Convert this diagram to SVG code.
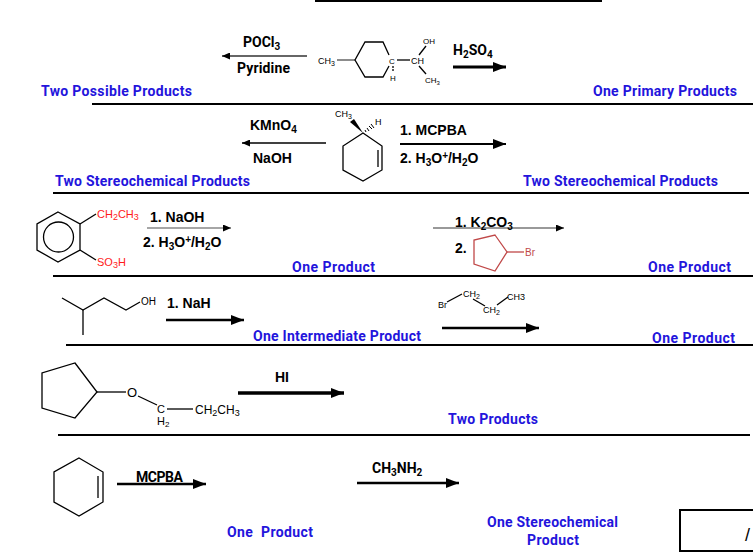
<svg xmlns="http://www.w3.org/2000/svg" width="753" height="555" viewBox="0 0 753 555">
<style>
.lbl{font-family:Roboto,"Liberation Sans",Arial,sans-serif;font-weight:bold;font-size:14px;fill:#2314dc;white-space:pre}
.rg{font-family:"Liberation Sans",Arial,sans-serif;font-weight:bold;font-size:14px;fill:#000}
.rr{font-family:Roboto,"Liberation Sans",Arial,sans-serif;font-weight:bold;font-size:14px;fill:#000}
.sm{font-family:"Liberation Sans",Arial,sans-serif;font-size:9px;fill:#000}
.red{font-family:"Liberation Sans",Arial,sans-serif;font-size:11px;fill:#ff1a1a}
.bond{stroke:#000;stroke-width:1.3;fill:none}
.sep{stroke:#000;stroke-width:2}
.arr{stroke:#000;fill:none}
</style>
<defs>
<marker id="ah" markerUnits="userSpaceOnUse" markerWidth="14" markerHeight="10" refX="13" refY="5" orient="auto">
<path d="M0,0 L13,5 L0,10 z" fill="#000"/>
</marker>
<marker id="ahs" markerUnits="userSpaceOnUse" markerWidth="9" markerHeight="7" refX="8" refY="3.5" orient="auto">
<path d="M0,0 L8,3.5 L0,7 z" fill="#000"/>
</marker>
</defs>

<g id="separators">
<line class="sep" x1="315" y1="1" x2="602" y2="1"/>
<line class="sep" x1="92" y1="104" x2="753" y2="104"/>
<line class="sep" x1="53" y1="193" x2="749" y2="193"/>
<line class="sep" x1="53" y1="276" x2="753" y2="276"/>
<line class="sep" x1="66" y1="345" x2="753" y2="345"/>
<line class="sep" x1="58" y1="435" x2="750" y2="435"/>
</g>

<g id="connectors">
<line class="arr" x1="307" y1="56" x2="222" y2="56" style="stroke:#666" stroke-width="2" marker-end="url(#ahs)"/>
<line class="arr" x1="453" y1="67" x2="506" y2="67" stroke-width="3" marker-end="url(#ah)"/>
<line class="arr" x1="326" y1="143" x2="242" y2="143" stroke-width="1.5" marker-end="url(#ahs)"/>
<line class="arr" x1="400" y1="144" x2="506" y2="144" stroke-width="2" marker-end="url(#ah)"/>
<line class="arr" x1="147" y1="228" x2="231" y2="228" style="stroke:#888" stroke-width="1.5" marker-end="url(#ahs)"/>
<line class="arr" x1="433" y1="228" x2="564" y2="228" style="stroke:#999" stroke-width="2" marker-end="url(#ahs)"/>
<line class="arr" x1="166" y1="320" x2="244" y2="320" stroke-width="2.5" marker-end="url(#ah)"/>
<line class="arr" x1="442" y1="328" x2="539" y2="328" stroke-width="2.5" marker-end="url(#ah)"/>
<line class="arr" x1="238" y1="393" x2="344" y2="393" stroke-width="3.5" marker-end="url(#ah)"/>
<line class="arr" x1="117" y1="484" x2="206" y2="484" stroke-width="2.5" marker-end="url(#ah)"/>
<line class="arr" x1="357" y1="483" x2="459" y2="483" stroke-width="2.5" marker-end="url(#ah)"/>
</g>

<g id="row1-reagents">
<text class="rr" x="243" y="47">POCl<tspan font-size="10" dy="3">3</tspan></text>
<text class="rr" x="237" y="73" textLength="53">Pyridine</text>
<text class="rr" x="453" y="55">H<tspan font-size="10" dy="3">2</tspan><tspan dy="-3">SO</tspan><tspan font-size="10" dy="3">4</tspan></text>
</g>

<g id="row1-molecule">
<text class="sm" x="318" y="64">CH<tspan font-size="7" dy="2">3</tspan></text>
<line x1="337" y1="60" x2="355" y2="60" stroke="#666" stroke-width="1.5"/>
<path class="bond" d="M389,55 L383,42 L365,42 L355,60 L365,77 L383,77 L389,66"/>
<text class="sm" x="389" y="64" style="font-size:8px">C</text>
<line class="bond" x1="397" y1="60" x2="410" y2="60"/>
<text class="sm" x="411" y="64">CH</text>
<text class="sm" x="423" y="44" style="font-size:8px">OH</text>
<line class="bond" x1="419" y1="55" x2="426" y2="46"/>
<line class="bond" x1="393" y1="66" x2="393" y2="72" stroke-dasharray="2,1"/>
<text class="sm" x="390" y="81" style="font-size:8px">H</text>
<line class="bond" x1="419" y1="66" x2="426" y2="74"/>
<text class="sm" x="425" y="83" style="font-size:8px">CH<tspan font-size="6" dy="2">3</tspan></text>
</g>

<g id="row1-labels">
<text class="lbl" x="41" y="96" textLength="151">Two Possible Products</text>
<text class="lbl" x="593" y="96" textLength="144">One Primary Products</text>
</g>

<g id="row2-reagents">
<text class="rg" x="250" y="130">KMnO<tspan font-size="10" dy="3">4</tspan></text>
<text class="rg" x="253" y="163">NaOH</text>
<text class="rg" x="400" y="135">1. MCPBA</text>
<text class="rg" x="400" y="163">2. H<tspan font-size="10" dy="3">3</tspan><tspan dy="-3">O</tspan><tspan font-size="10" dy="-4">+</tspan><tspan dy="4">/H</tspan><tspan font-size="10" dy="3">2</tspan><tspan dy="-3">O</tspan></text>
</g>

<g id="row2-molecule">
<polygon class="bond" points="363,133 382,146 382,170 363,181 343,170 343,146" stroke-width="1.8"/>
<line class="bond" x1="378" y1="150" x2="378" y2="167" stroke-width="1.8"/>
<polygon points="363,133 350,122 354,119" fill="#000"/>
<text class="sm" x="335" y="117">CH<tspan font-size="7" dy="2">3</tspan></text>
<g stroke="#000" stroke-width="1">
<line x1="365" y1="130" x2="366" y2="132"/>
<line x1="367" y1="128" x2="369" y2="131"/>
<line x1="369" y1="126" x2="372" y2="129"/>
<line x1="371" y1="124" x2="374" y2="128"/>
</g>
<text class="sm" x="375" y="125">H</text>
</g>

<g id="row2-labels">
<text class="lbl" x="55" y="186" textLength="195">Two Stereochemical Products</text>
<text class="lbl" x="523" y="186" textLength="195">Two Stereochemical Products</text>
</g>

<g id="row3-molecule">
<polygon class="bond" points="58,212 80,224 80,250 58,262 37,250 37,224"/>
<circle class="bond" cx="58.5" cy="237" r="15"/>
<line class="bond" x1="80" y1="224" x2="96" y2="214"/>
<line class="bond" x1="80" y1="250" x2="96" y2="260"/>
<text class="red" x="97" y="218">CH<tspan font-size="9" dy="2">2</tspan><tspan dy="-2">CH</tspan><tspan font-size="9" dy="2">3</tspan></text>
<text class="red" x="97" y="266">SO<tspan font-size="9" dy="2">3</tspan><tspan dy="-2">H</tspan></text>
</g>

<g id="row3-reagents">
<text class="rg" x="150" y="222">1. NaOH</text>
<text class="rg" x="143" y="247">2. H<tspan font-size="10" dy="3">3</tspan><tspan dy="-3">O</tspan><tspan font-size="10" dy="-4">+</tspan><tspan dy="4">/H</tspan><tspan font-size="10" dy="3">2</tspan><tspan dy="-3">O</tspan></text>
<text class="rg" x="455" y="227">1. K<tspan font-size="10" dy="3">2</tspan><tspan dy="-3">CO</tspan><tspan font-size="10" dy="3">3</tspan></text>
<text class="rg" x="455" y="253">2.</text>
<polygon points="495,235 507,252 495,271 474,264 474,240" fill="none" stroke="#c04848" stroke-width="1.3"/>
<line x1="507" y1="252" x2="524" y2="252" stroke="#c04848" stroke-width="1.3"/>
<text x="525" y="256" font-family="Liberation Sans, Arial, sans-serif" font-size="10" fill="#c04848">Br</text>
</g>

<g id="row3-labels">
<text class="lbl" x="292" y="272" textLength="83">One Product</text>
<text class="lbl" x="648" y="272" textLength="83">One Product</text>
</g>

<g id="row4-molecule">
<polyline class="bond" points="62,298 83,310 104,298 126,310 140,302"/>
<line class="bond" x1="83" y1="310" x2="83" y2="335"/>
<text class="sm" x="141" y="305" style="font-size:10px">OH</text>
</g>

<g id="row4-reagents">
<text class="rg" x="167" y="308">1. NaH</text>
<text class="sm" x="438" y="308">Br</text>
<line class="bond" x1="447" y1="302" x2="462" y2="294"/>
<text class="sm" x="463" y="297">CH<tspan font-size="7" dy="2">2</tspan></text>
<line class="bond" x1="473" y1="299" x2="485" y2="306"/>
<text class="sm" x="483" y="313">CH<tspan font-size="7" dy="2">2</tspan></text>
<line class="bond" x1="497" y1="305" x2="508" y2="297"/>
<text class="sm" x="507" y="300">CH3</text>
</g>

<g id="row4-labels">
<text class="lbl" x="253" y="341" textLength="168">One Intermediate Product</text>
<text class="lbl" x="652" y="343" textLength="83">One Product</text>
</g>

<g id="row5-molecule">
<polygon class="bond" points="75,363 97,392 75,418 42,408 42,373"/>
<line class="bond" x1="97" y1="392" x2="126" y2="392"/>
<text class="sm" x="127" y="397" style="font-size:13px">O</text>
<line class="bond" x1="138" y1="396" x2="157" y2="405"/>
<text class="sm" x="157" y="413" style="font-size:11px">C</text>
<text class="sm" x="157" y="425" style="font-size:11px">H<tspan font-size="8" dy="2">2</tspan></text>
<line class="bond" x1="167" y1="409" x2="193" y2="409"/>
<text class="sm" x="195" y="414" style="font-size:12px">CH<tspan font-size="9" dy="2">2</tspan><tspan dy="-2">CH</tspan><tspan font-size="9" dy="2">3</tspan></text>
</g>

<g id="row5-reagents">
<text class="rg" x="275" y="382">HI</text>
<text class="lbl" x="448" y="424" textLength="90">Two Products</text>
</g>

<g id="row6-molecule">
<polygon class="bond" points="79,458 103,472 103,502 79,516 54,502 54,472"/>
<line class="bond" x1="98" y1="476" x2="98" y2="498" stroke-width="1.8"/>
</g>

<g id="row6-reagents">
<text class="rr" x="136" y="482" textLength="47">MCPBA</text>
<text class="rr" x="372" y="473">CH<tspan font-size="10" dy="3">3</tspan><tspan dy="-3">NH</tspan><tspan font-size="10" dy="3">2</tspan></text>
</g>

<g id="row6-labels">
<text class="lbl" x="227" y="537" textLength="86">One  Product</text>
<text class="lbl" x="487" y="527" textLength="131">One Stereochemical</text>
<text class="lbl" x="527" y="545" textLength="52">Product</text>
</g>

<g id="answer-box">
<rect x="680" y="510" width="80" height="41" fill="none" stroke="#000" stroke-width="2"/>
<text x="745" y="541" font-family="Liberation Sans, Arial, sans-serif" font-size="18" fill="#000">/</text>
</g>
</svg>
